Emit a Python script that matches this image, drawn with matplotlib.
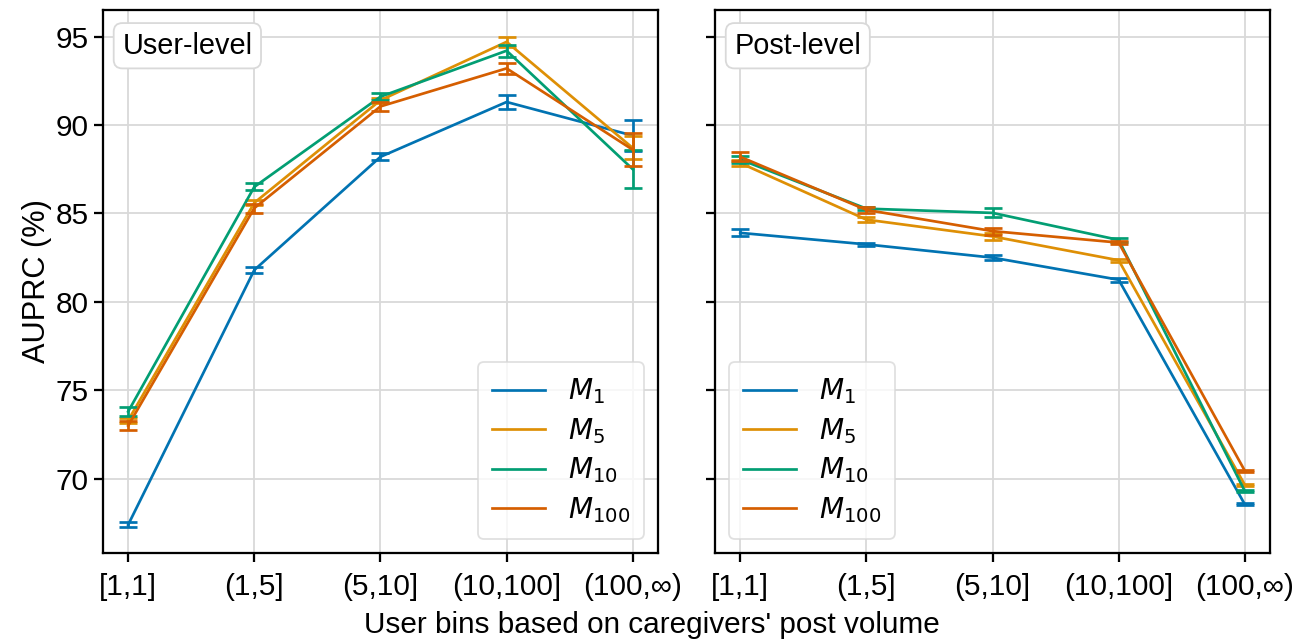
import matplotlib

matplotlib.use("Agg")
import matplotlib.pyplot as plt

plt.rcParams["font.family"] = ["Liberation Sans", "DejaVu Sans"]

BINS = ["[1,1]", "(1,5]", "(5,10]", "(10,100]", "(100,\u221e)"]
MODELS = ["$M_1$", "$M_5$", "$M_{10}$", "$M_{100}$"]
COLORS = ["#0173b2", "#de8f05", "#029e73", "#d55e00"]

# user-level AUPRC (%) and error
user_m1 = [67.4, 81.8, 88.2, 91.3, 89.4]
user_m5 = [73.3, 85.6, 91.4, 94.7, 88.7]
user_m10 = [73.8, 86.5, 91.6, 94.2, 87.5]
user_m100 = [73.0, 85.3, 91.05, 93.2, 88.6]
user_err_m1 = [0.15, 0.15, 0.2, 0.42, 0.87]
user_err_m5 = [0.15, 0.15, 0.15, 0.3, 0.65]
user_err_m10 = [0.27, 0.2, 0.2, 0.35, 1.07]
user_err_m100 = [0.25, 0.26, 0.25, 0.3, 0.93]

# post-level AUPRC (%) and error
post_m1 = [83.9, 83.25, 82.5, 81.25, 68.55]
post_m5 = [87.85, 84.65, 83.7, 82.35, 69.65]
post_m10 = [88.05, 85.27, 85.03, 83.5, 69.3]
post_m100 = [88.2, 85.2, 84.0, 83.35, 70.45]
post_err_m1 = [0.2, 0.1, 0.15, 0.1, 0.05]
post_err_m5 = [0.15, 0.15, 0.2, 0.1, 0.05]
post_err_m10 = [0.2, 0.1, 0.25, 0.1, 0.05]
post_err_m100 = [0.25, 0.15, 0.2, 0.1, 0.05]

panels = [
    ("User-level", [user_m1, user_m5, user_m10, user_m100],
     [user_err_m1, user_err_m5, user_err_m10, user_err_m100], "lower right"),
    ("Post-level", [post_m1, post_m5, post_m10, post_m100],
     [post_err_m1, post_err_m5, post_err_m10, post_err_m100], "lower left"),
]

fig, axes = plt.subplots(1, 2, figsize=(1303 / 130, 642 / 130), dpi=130, sharey=True)
fig.subplots_adjust(left=0.079, right=0.9747, top=0.9844, bottom=0.1386, wspace=0.1027)

xs = list(range(len(BINS)))
for ax, (title, series, errs, loc) in zip(axes, panels):
    for vals, err, name, c in zip(series, errs, MODELS, COLORS):
        ax.plot(xs, vals, color=c, lw=1.5, label=name, zorder=3)
        ax.errorbar(xs, vals, yerr=err, fmt="none", ecolor=c, elinewidth=1.5,
                    capsize=5, capthick=1.5, zorder=3)
    ax.set_xticks(xs)
    ax.set_xticklabels(BINS)
    ax.grid(True, color="0.85", lw=1.0, zorder=0)
    ax.set_axisbelow(True)
    for s in ax.spines.values():
        s.set_linewidth(1.25)
        s.set_color("black")
    ax.tick_params(axis="both", labelsize=16.5, length=5, width=1.25)
    ax.tick_params(axis="x", pad=6)
    ax.tick_params(axis="y", pad=3)
    ax.text(0.035, 0.96, title, transform=ax.transAxes, fontsize=16, va="top", ha="left",
            bbox=dict(boxstyle="round,pad=0.3", fc="white", ec="0.85", lw=1.0), zorder=5)
    leg = ax.legend(loc=loc, fontsize=15.5, frameon=True, fancybox=True, borderpad=0.5,
                    labelspacing=0.35, handlelength=1.9, handletextpad=0.8)
    leg.get_frame().set_edgecolor("0.85")

axes[0].set_ylim(65.8, 96.5)
axes[0].set_yticks([70, 75, 80, 85, 90, 95])
axes[0].set_xlim(-0.2, 4.2)
axes[1].set_xlim(-0.2, 4.2)
axes[0].set_ylabel("AUPRC (%)", fontsize=17, labelpad=2)
fig.supxlabel("User bins based on caregivers' post volume", fontsize=16.5, y=0.026, va="center")

fig.savefig("out.png", dpi=130)
